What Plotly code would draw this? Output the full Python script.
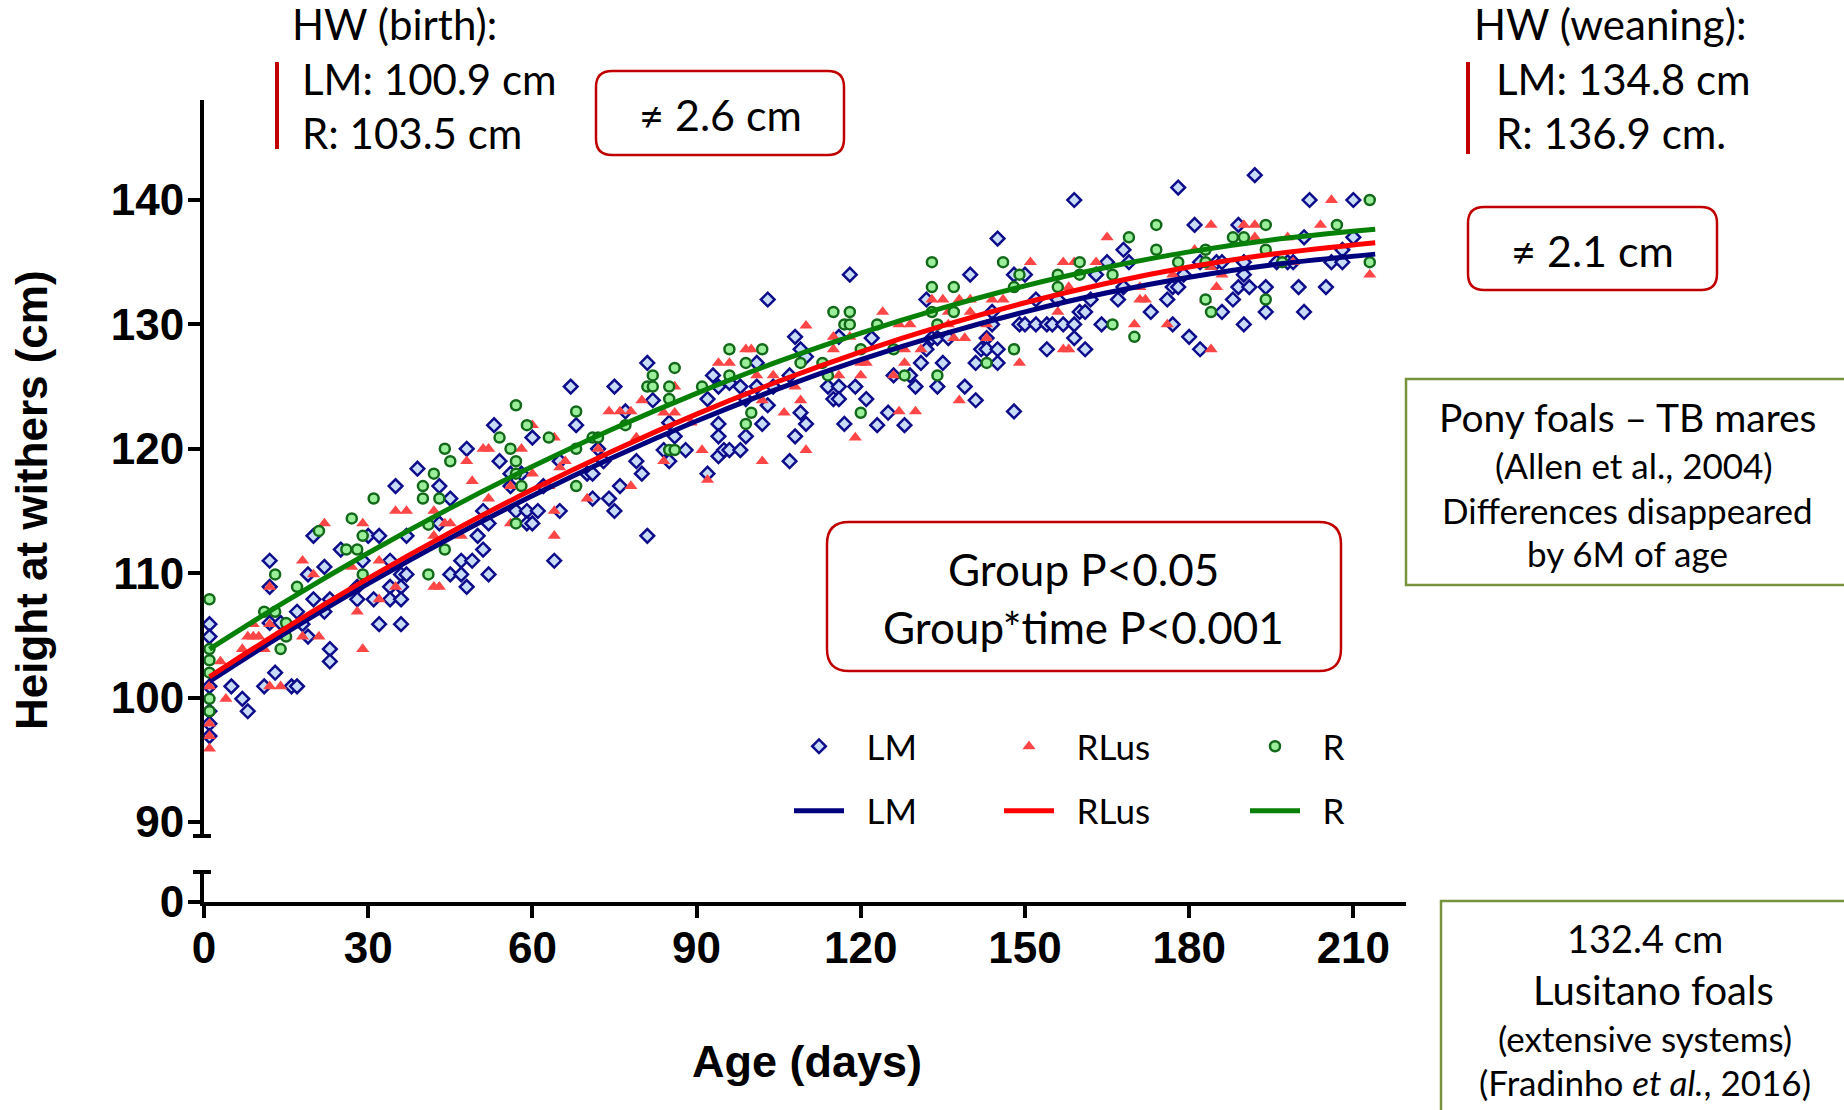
import plotly.graph_objects as go

# ---------------- data ----------------
lm_day = [1, 1, 1, 1, 1, 1, 5, 7, 8, 11, 13, 16, 17,
          12, 12, 12, 14, 17, 18, 19, 19, 20, 20, 22, 22, 23, 23, 23, 25, 28, 28, 29, 30, 32, 31, 32,
          34, 34, 34, 35, 36, 36, 36, 36, 37, 37, 39,
          43, 45, 43, 48, 45, 47, 47, 48, 49, 50, 51, 51, 52, 52, 53, 54, 56, 56, 57, 58, 59, 59, 60, 61,
          60, 62, 64, 65, 65, 67, 68, 70, 71, 71, 72, 73, 74, 75, 75, 76, 77, 79, 80, 81, 81,
          82, 84, 85, 86, 88, 85, 92, 92, 93, 94, 94, 94, 95, 96, 94, 96, 98, 98, 99, 99, 101, 101, 102,
          103, 103, 104, 107, 107, 108, 108, 109, 109, 110, 110, 114, 115, 116, 116, 117, 118, 119, 121, 116,
          122, 123, 125, 126, 128, 129, 130, 131, 132, 132, 133, 134, 134, 135, 136, 139, 140, 141, 141, 142,
          143, 143, 144, 144, 145, 145, 145, 148, 148, 149, 150, 150, 152, 152, 154, 154, 155, 156, 157, 159,
          159, 159, 160, 161, 161,
          162, 163, 165, 164, 167, 168, 168, 169, 173, 176, 177, 177, 178, 178, 179, 180, 181, 182, 182, 185,
          186, 186, 188, 189, 189, 190, 190, 190, 191, 192, 194, 194, 196, 198, 199, 200, 201, 201, 202, 205,
          206, 208, 208, 210, 210]
lm_hw = [105.9, 104.9, 100.9, 98.9, 97.9, 96.9, 100.9, 99.9, 98.9, 100.9, 102.0, 100.9, 100.9,
         111.0, 108.9, 106.0, 106.0, 106.9, 105.9, 109.9, 104.9, 113.0, 107.9, 110.5, 106.9, 107.9, 103.9, 102.9, 111.9, 108.9, 107.9, 111.0, 113.0, 113.0, 107.9, 105.9,
         111.0, 108.9, 107.9, 117.0, 109.9, 108.9, 107.9, 105.9, 113.0, 109.9, 118.4,
         117.0, 116.0, 114.0, 120.0, 109.9, 111.0, 109.9, 108.9, 111.0, 113.0, 115.0, 111.9, 114.0, 109.9, 121.9, 119.0, 118.0, 117.0, 115.0, 118.0, 115.0, 114.0, 114.0, 115.0,
         120.9, 117.0, 111.0, 115.0, 119.0, 125.0, 121.9, 118.0, 118.0, 116.0, 120.0, 119.0, 116.0, 115.0, 125.0, 117.0, 123.0, 119.0, 118.0, 113.0, 126.9,
         123.9, 119.9, 119.0, 121.0, 119.9, 122.1, 124.0, 118.0, 125.9, 122.0, 121.0, 119.4, 119.9, 119.9, 125.0, 125.3, 125.0, 119.9, 124.0, 121.0, 126.9, 125.0, 122.0,
         132.0, 123.5, 125.0, 125.9, 119.0, 129.0, 121.0, 128.0, 122.9, 122.0, 127.4, 125.0, 124.0, 125.0, 124.0, 122.0, 134.0, 125.0, 124.0, 129.0,
         128.9, 121.9, 122.9, 125.9, 121.9, 125.9, 125.0, 126.9, 132.0, 128.0, 128.9, 128.9, 125.0, 126.9, 128.9, 125.0, 134.0, 123.9, 126.9, 128.0,
         128.9, 128.0, 131.0, 130.0, 136.9, 128.0, 126.9, 134.0, 123.0, 130.0, 130.0, 134.0, 130.0, 132.0, 130.0, 128.0, 130.0, 132.0, 130.0, 130.0,
         128.9, 140.0, 131.0, 131.0, 128.0,
         132.0, 134.0, 135.0, 130.0, 132.0, 136.0, 133.0, 135.0, 131.0, 132.0, 133.0, 130.0, 141.0, 133.0, 134.0, 129.0, 138.0, 128.0, 135.0, 135.0,
         135.0, 131.0, 132.0, 138.0, 133.0, 135.0, 134.0, 130.0, 133.0, 142.0, 133.0, 131.0, 135.0, 135.0, 135.0, 133.0, 137.0, 131.0, 140.0, 133.0,
         135.0, 136.0, 135.0, 137.0, 140.0]

rlus_day = [1, 1, 1, 1, 1, 3, 4, 7, 8, 9, 10, 9, 11, 12, 14, 12, 12, 15, 18, 18, 20, 21, 22, 27, 28, 29, 29, 32, 32, 35, 37, 35,
            42, 43, 42, 44, 42, 45, 47, 48, 49, 51, 52, 52, 56, 56, 58, 60, 60, 63, 64, 64, 64, 65, 66, 70, 72, 74, 76, 78, 78, 79, 80,
            84, 86, 86, 84, 91, 92, 89, 94, 96, 99, 100, 101, 102, 102, 104, 106, 108, 109, 110, 110, 115, 115, 116, 118, 119, 120, 121, 120,
            124, 127, 129, 128, 128, 126, 131, 127, 130, 133, 135, 136, 136, 137, 139, 138, 140, 140, 138, 143, 143, 144, 146, 149, 151, 156,
            157, 157, 158, 158, 159,
            163, 165, 170, 171, 171, 172, 176, 177, 181, 183, 184, 184, 184, 185, 186, 190, 192, 192, 198, 199, 204, 206, 213]
rlus_hw = [100.9, 98.9, 97.9, 96.9, 95.9, 102.9, 99.9, 103.9, 104.9, 104.9, 104.9, 105.9, 103.9, 100.9, 100.9, 108.9, 105.9, 104.9, 111.0, 104.9, 109.9, 104.9, 114.0, 110.5, 106.9, 114.0, 103.9, 111.0, 107.9, 115.0, 115.0, 108.9,
           108.9, 108.9, 115.0, 114.0, 113.0, 114.0, 113.0, 119.0, 117.4, 120.0, 120.0, 116.0, 117.0, 114.0, 120.0, 121.9, 118.0, 117.0, 120.9, 115.0, 113.0, 118.5, 119.0, 116.0, 120.0, 123.0, 123.0, 123.0, 117.0, 120.9, 123.9,
           122.9, 122.9, 125.0, 119.0, 119.9, 117.5, 122.1, 126.9, 126.9, 128.0, 128.0, 125.9, 123.9, 119.0, 125.9, 122.9, 125.0, 123.9, 129.9, 119.9, 128.0, 129.0, 125.9, 129.0, 120.9, 126.9, 126.9, 125.9,
           131.0, 130.0, 130.0, 128.0, 126.9, 125.9, 128.0, 123.0, 123.0, 132.0, 132.0, 131.0, 130.0, 128.9, 128.9, 132.0, 132.0, 131.0, 123.9, 130.0, 128.9, 132.0, 132.0, 126.9, 135.0, 131.0,
           135.0, 128.0, 128.0, 133.0, 135.0,
           135.0, 137.0, 130.0, 133.0, 132.0, 132.0, 130.0, 134.0, 136.0, 132.0, 138.0, 128.0, 134.6, 133.0, 134.0, 138.0, 138.0, 137.0, 137.0, 135.0, 138.0, 140.0, 134.0]

r_day = [1, 1, 1, 1, 1, 1, 11, 13, 13, 15, 15, 14, 17, 21, 27, 26, 28, 29, 29, 31, 40, 40, 41, 41,
         42, 43, 44, 45, 44, 54, 56, 57, 57, 57, 58, 57, 59, 63, 68, 68, 68, 71, 72, 77, 81,
         82, 82, 85, 85, 86, 85, 86, 91, 96, 96, 99, 102, 100, 99, 109, 113, 114, 115, 117, 118, 118, 120, 120,
         123, 126, 128, 133, 133, 133, 134, 134, 137, 137, 143, 146, 148, 148, 149, 156, 156, 160, 160,
         166, 166, 169, 170, 174, 174, 178, 183, 183, 183, 184, 188, 190, 194, 194, 194, 197, 207, 213, 213]
r_hw = [107.9, 103.9, 103.0, 102.0, 99.9, 98.9, 106.9, 106.9, 109.9, 106.0, 104.9, 103.9, 108.9, 113.4, 114.4, 111.9, 111.9, 113.0, 109.9, 116.0, 117.0, 116.0, 113.9, 109.9,
        118.0, 116.0, 120.0, 119.0, 111.9, 120.9, 120.0, 123.5, 119.0, 118.0, 117.0, 114.0, 121.9, 120.9, 123.0, 120.0, 117.0, 120.9, 120.9, 121.9, 125.0,
        125.9, 125.0, 125.0, 124.0, 126.5, 119.9, 119.9, 125.0, 128.0, 125.9, 126.9, 128.0, 122.9, 122.0, 126.9, 126.9, 125.9, 131.0, 130.0, 131.0, 130.0, 128.0, 122.9,
        130.0, 128.0, 125.9, 135.0, 133.0, 131.0, 130.0, 125.9, 133.0, 131.0, 126.9, 135.0, 133.0, 128.0, 134.0, 134.0, 133.0, 135.0, 134.0,
        134.0, 130.0, 137.0, 129.0, 138.0, 136.0, 135.0, 136.0, 135.0, 132.0, 131.0, 137.0, 137.0, 138.0, 136.0, 132.0, 135.0, 138.0, 140.0, 135.0]

# fitted curves
fit_day = [1, 15, 30, 45, 60, 75, 90, 105, 120, 135, 150, 165, 180, 195, 214]
fit_lm = [101.30, 105.22, 109.16, 112.83, 116.23, 119.36, 122.23, 124.83, 127.16, 129.22, 131.01, 132.54, 133.79, 134.78, 135.65]
fit_rlus = [101.66, 105.61, 109.58, 113.28, 116.72, 119.89, 122.79, 125.43, 127.80, 129.90, 131.74, 133.31, 134.61, 135.64, 136.57]
fit_r = [103.90, 107.75, 111.62, 115.23, 118.57, 121.65, 124.46, 127.02, 129.30, 131.33, 133.10, 134.59, 135.83, 136.79, 137.64]

x_ticks = [0, 30, 60, 90, 120, 150, 180, 210]
y_ticks = [90, 100, 110, 120, 130, 140]
y_low_ticks = [0]

# ---------------- geometry ----------------
FIG_W, FIG_H = 1844, 1110
ML, MR, MT, MB = 204, 438, 100, 208
PW = FIG_W - ML - MR
PH = FIG_H - MT - MB


def px(X):
    return (X - ML) / PW


def py(Y):
    return (FIG_H - MB - Y) / PH


AX_FONT = "Liberation Sans, Arial, sans-serif"
TX_FONT = "Lato, Open Sans, sans-serif"
GAP = "\u2002"  # spacing between legend symbol and label

fig = go.Figure()

fig.add_trace(go.Scatter(x=lm_day, y=lm_hw, mode="markers", name=GAP + "LM", legend="legend", legendgroup="a",
                         marker=dict(symbol="diamond", size=10.5, color="#c9dcf7",
                                     line=dict(color="#0d0d8c", width=2.5))))
fig.add_trace(go.Scatter(x=rlus_day, y=rlus_hw, mode="markers", name=GAP + "RLus", legend="legend2", legendgroup="b",
                         marker=dict(symbol="triangle-up", size=11.5, color="#ff4646", line=dict(width=0))))
fig.add_trace(go.Scatter(x=r_day, y=r_hw, mode="markers", name=GAP + "R", legend="legend3", legendgroup="c",
                         marker=dict(symbol="circle", size=10, color="#9bef9b",
                                     line=dict(color="#13691a", width=2.5))))
fig.add_trace(go.Scatter(x=fit_day, y=fit_lm, mode="lines", name=GAP + "LM", legend="legend", legendgroup="d",
                         line=dict(color="#00007f", width=5, shape="spline")))
fig.add_trace(go.Scatter(x=fit_day, y=fit_rlus, mode="lines", name=GAP + "RLus", legend="legend2", legendgroup="e",
                         line=dict(color="#ff0000", width=5, shape="spline")))
fig.add_trace(go.Scatter(x=fit_day, y=fit_r, mode="lines", name=GAP + "R", legend="legend3", legendgroup="f",
                         line=dict(color="#078007", width=5, shape="spline")))
# empty trace so that the lower (broken) y-axis segment is created
fig.add_trace(go.Scatter(x=[], y=[], xaxis="x", yaxis="y2", showlegend=False, hoverinfo="skip"))

tick_font = dict(family=AX_FONT, size=44, color="black", weight="bold")
axis_common = dict(showline=True, linecolor="black", linewidth=4, ticks="outside", ticklen=12,
                   tickwidth=4, tickcolor="black", tickfont=tick_font, showgrid=False, zeroline=False)


def rounded(X0, Y0, X1, Y1, r):
    def P(X, Y):
        return f"{px(X):.5f},{py(Y):.5f}"
    return (f"M {P(X0 + r, Y0)} L {P(X1 - r, Y0)} Q {P(X1, Y0)} {P(X1, Y0 + r)} "
            f"L {P(X1, Y1 - r)} Q {P(X1, Y1)} {P(X1 - r, Y1)} L {P(X0 + r, Y1)} "
            f"Q {P(X0, Y1)} {P(X0, Y1 - r)} L {P(X0, Y0 + r)} Q {P(X0, Y0)} {P(X0 + r, Y0)} Z")


RED = "#c00000"
OLIVE = "#77933c"
shapes = [
    # axis break caps
    dict(type="line", xref="paper", yref="paper", x0=px(193), x1=px(211), y0=py(836), y1=py(836),
         line=dict(color="black", width=4)),
    dict(type="line", xref="paper", yref="paper", x0=px(193), x1=px(211), y0=py(872), y1=py(872),
         line=dict(color="black", width=4)),
    # red bars
    dict(type="line", xref="paper", yref="paper", x0=px(277), x1=px(277), y0=py(62), y1=py(149),
         line=dict(color=RED, width=4)),
    dict(type="line", xref="paper", yref="paper", x0=px(1468), x1=px(1468), y0=py(62), y1=py(154),
         line=dict(color=RED, width=4)),
    # rounded red boxes
    dict(type="path", xref="paper", yref="paper", path=rounded(596, 71, 844, 155, 16), line=dict(color=RED, width=2.5)),
    dict(type="path", xref="paper", yref="paper", path=rounded(1468, 207, 1717, 290, 16), line=dict(color=RED, width=2.5)),
    dict(type="path", xref="paper", yref="paper", path=rounded(827, 522, 1341, 671, 22), line=dict(color=RED, width=2.5)),
    # olive boxes
    dict(type="rect", xref="paper", yref="paper", x0=px(1406), x1=px(1852), y0=py(379), y1=py(585),
         line=dict(color=OLIVE, width=2.5)),
    dict(type="rect", xref="paper", yref="paper", x0=px(1441), x1=px(1852), y0=py(901), y1=py(1118),
         line=dict(color=OLIVE, width=2.5)),
]


def note(text, X, Y, size, xanchor="left", family=TX_FONT, **kw):
    return dict(text=text, x=px(X), y=py(Y), xref="paper", yref="paper", xanchor=xanchor, yanchor="middle",
                showarrow=False, font=dict(family=family, size=size, color="black", **kw))


annotations = [
    note("HW (birth):", 290, 24, 42),
    note("LM: 100.9 cm", 300, 79, 42),
    note("R: 103.5 cm", 300, 133, 42),
    note("≠ 2.6 cm", 720, 114, 43, "center"),
    note("HW (weaning):", 1472, 24, 42),
    note("LM: 134.8 cm", 1494, 79, 42),
    note("R: 136.9 cm.", 1494, 133, 42),
    note("≠ 2.1 cm", 1592, 250, 43, "center"),
    note("Group P&lt;0.05", 1083, 569, 44, "center"),
    note("Group*time P&lt;0.001", 1083, 627, 44, "center"),
    note("Pony foals – TB mares", 1628, 417, 39, "center"),
    note("(Allen et al., 2004)", 1634, 465, 35, "center"),
    note("Differences disappeared", 1627, 510, 35, "center"),
    note("by 6M of age", 1627, 553, 35, "center"),
    note("132.4 cm", 1645, 938, 38, "center"),
    note("Lusitano foals", 1653, 990, 40, "center"),
    note("(extensive systems)", 1645, 1038, 35, "center"),
    note("(Fradinho <i>et al.</i>, 2016)", 1645, 1082, 35, "center"),
    # axis titles
    dict(text="Height at withers (cm)", x=px(31), y=py(500), xref="paper", yref="paper", xanchor="center",
         yanchor="middle", textangle=-90, showarrow=False,
         font=dict(family=AX_FONT, size=44, color="black", weight="bold")),
    dict(text="Age (days)", x=px(807), y=py(1061), xref="paper", yref="paper", xanchor="center",
         yanchor="middle", showarrow=False,
         font=dict(family=AX_FONT, size=45, color="black", weight="bold")),
]

leg_common = dict(orientation="v", bgcolor="rgba(0,0,0,0)", borderwidth=0, itemwidth=50,
                  tracegroupgap=16, font=dict(family=TX_FONT, size=35, color="black"),
                  xanchor="left", yanchor="top", traceorder="grouped")

fig.update_layout(
    width=FIG_W, height=FIG_H,
    margin=dict(l=ML, r=MR, t=MT, b=MB, pad=0),
    paper_bgcolor="white", plot_bgcolor="white",
    showlegend=True,
    xaxis=dict(domain=[0, 1], range=[0, PW / 5.473], anchor="y2", tickvals=x_ticks,
               ticktext=[str(v) for v in x_ticks], ticklabelstandoff=-8, **axis_common),
    yaxis=dict(domain=[py(836), 1], range=[88.87, 148.04], anchor="x", tickvals=y_ticks,
               ticktext=[str(v) for v in y_ticks], ticklabelstandoff=-5, **axis_common),
    yaxis2=dict(domain=[0, py(872)], range=[0, 1], anchor="x", tickvals=y_low_ticks,
                ticktext=[str(v) for v in y_low_ticks], ticklabelstandoff=-5, **axis_common),
    legend=dict(x=px(789), y=py(717), **leg_common),
    legend2=dict(x=px(999), y=py(717), **leg_common),
    legend3=dict(x=px(1245), y=py(717), **leg_common),
    shapes=shapes,
    annotations=annotations,
)

fig.write_html("out.html", include_plotlyjs=True, config={"displayModeBar": False},
               post_script="document.body.style.margin='0';document.body.style.overflow='hidden';")
